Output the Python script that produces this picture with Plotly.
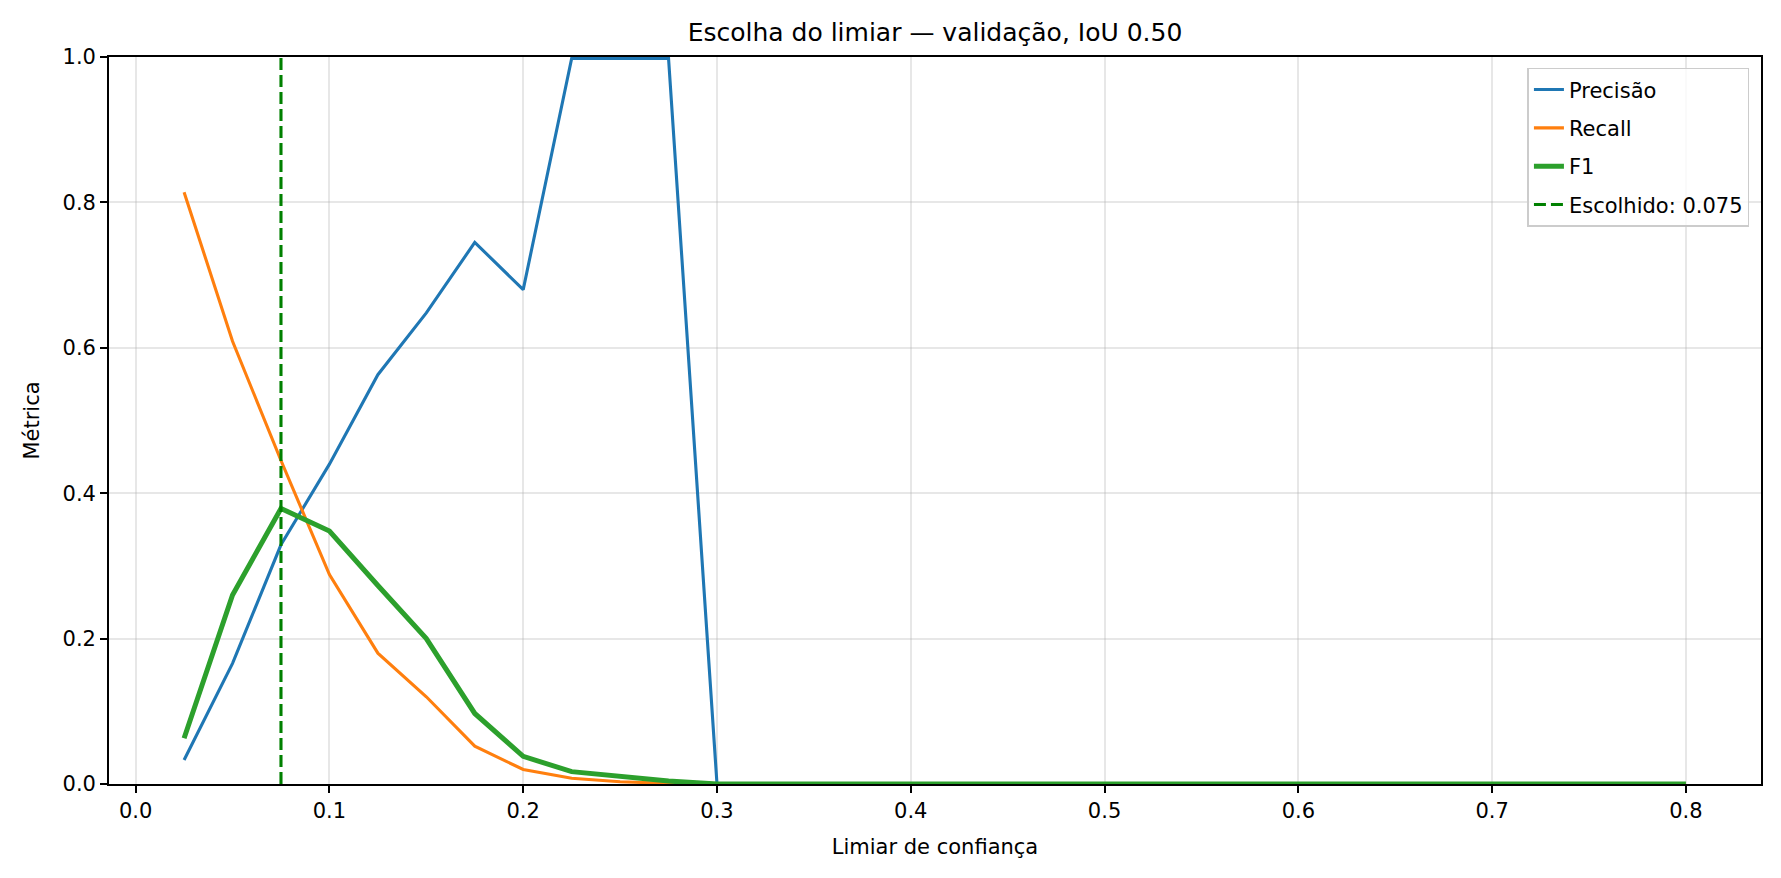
import plotly.graph_objects as go

# limiares testados na validação
limiares = [0.025, 0.05, 0.075, 0.1, 0.125, 0.15, 0.175, 0.2, 0.225, 0.25, 0.275, 0.3,
            0.325, 0.35, 0.375, 0.4, 0.425, 0.45, 0.475, 0.5, 0.525, 0.55, 0.575, 0.6,
            0.625, 0.65, 0.675, 0.7, 0.725, 0.75, 0.775, 0.8]
precisao = [0.033, 0.166, 0.329, 0.440, 0.563, 0.648, 0.745, 0.680, 0.998, 0.998, 0.998, 0.0,
            0, 0, 0, 0, 0, 0, 0, 0, 0, 0, 0, 0, 0, 0, 0, 0, 0, 0, 0, 0]
recall = [0.814, 0.609, 0.445, 0.288, 0.180, 0.120, 0.052, 0.020, 0.008, 0.003, 0.001, 0.0,
          0, 0, 0, 0, 0, 0, 0, 0, 0, 0, 0, 0, 0, 0, 0, 0, 0, 0, 0, 0]
f1 = [0.063, 0.260, 0.379, 0.348, 0.273, 0.200, 0.097, 0.038, 0.017, 0.010, 0.004, 0.0,
      0, 0, 0, 0, 0, 0, 0, 0, 0, 0, 0, 0, 0, 0, 0, 0, 0, 0, 0, 0]
escolhido = 0.075

FONTE = "DejaVu Sans"

fig = go.Figure()
fig.add_trace(go.Scatter(x=limiares, y=precisao, mode="lines", name="Precisão",
                         line=dict(color="#1f77b4", width=3.1), legendgroup="p"))
fig.add_trace(go.Scatter(x=limiares, y=recall, mode="lines", name="Recall",
                         line=dict(color="#ff7f0e", width=3.1), legendgroup="r"))
fig.add_trace(go.Scatter(x=limiares, y=f1, mode="lines", name="F1",
                         line=dict(color="#2ca02c", width=5), legendgroup="f"))
# linha vertical do limiar escolhido
fig.add_trace(go.Scatter(x=[escolhido, escolhido], y=[0, 1], mode="lines",
                         name=f"Escolhido: {escolhido:.3f}",
                         line=dict(color="#008000", width=3.1, dash="12px,5px"),
                         legendgroup="e"))

eixo = dict(showline=True, mirror=True, linecolor="black", linewidth=1.7,
            ticks="outside", ticklen=7, tickwidth=1.7, tickcolor="black",
            showgrid=True, gridcolor="rgba(176,176,176,0.3)", gridwidth=1.7,
            zeroline=False, tickfont=dict(size=21, color="black"))

fig.update_xaxes(range=[-0.01375, 0.83875], dtick=0.1, tickformat=".1f",
                 title=dict(text="Limiar de confiança", font=dict(size=21), standoff=17),
                 **eixo)
fig.update_yaxes(range=[0, 1], dtick=0.2, tickformat=".1f",
                 title=dict(text="Métrica", font=dict(size=21), standoff=17),
                 **eixo)

# a página tem 8px de margem no body; o tamanho compensa isso
fig.update_layout(
    width=1765, height=862,
    margin=dict(l=101, r=10, t=49, b=86),
    plot_bgcolor="white", paper_bgcolor="white",
    font=dict(family=FONTE, color="black"),
    title=dict(text="Escolha do limiar — validação, IoU 0.50", x=0.5, xref="paper",
               xanchor="center", y=0.972, yanchor="middle", font=dict(size=25)),
    legend=dict(x=0.993, y=0.985, xanchor="right", yanchor="top",
                bgcolor="rgba(255,255,255,0.8)", bordercolor="#cccccc", borderwidth=1.5,
                font=dict(size=21), tracegroupgap=8),
)

fig.write_html("out.html")
